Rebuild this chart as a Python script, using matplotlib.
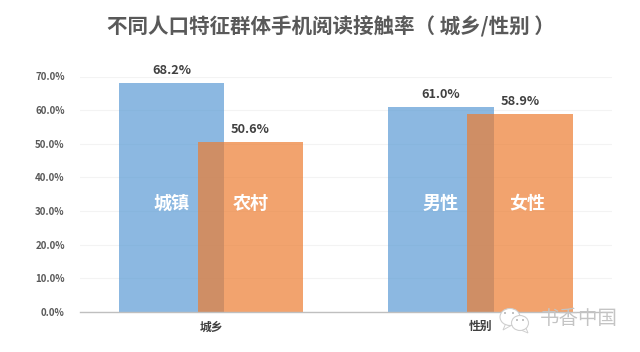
import matplotlib
matplotlib.use('Agg')
import matplotlib.pyplot as plt
from matplotlib.patches import Ellipse, Polygon

plt.rcParams['font.family'] = ['Noto Sans CJK SC', 'DejaVu Sans']

title = '不同人口特征群体手机阅读接触率（ 城乡/性别 ）'
groups = ['城乡', '性别']
left_names = ['城镇', '男性']
right_names = ['农村', '女性']
left_values = [68.2, 61.0]
right_values = [50.6, 58.9]
y_ticks = [0, 10, 20, 30, 40, 50, 60, 70]

W, H = 640, 352
bar_w = 0.39
offset = 0.1465
name_y = 32.2
label_gap = 1.6
right_name_shift = [0, 0.026]

fig = plt.figure(figsize=(W / 100, H / 100), dpi=100, facecolor='white')
# axes box in pixels: left 80, right 612, top 76.5, bottom 312
ax = fig.add_axes([80 / W, 1 - 312 / H, 532 / W, 235.5 / H])

x = list(range(len(groups)))
ax.bar([i - offset for i in x], left_values, bar_w, color='#5B9BD5', alpha=0.7, linewidth=0, zorder=2)
ax.bar([i + offset for i in x], right_values, bar_w, color='#ED7D31', alpha=0.7, linewidth=0, zorder=3)

for i in x:
    ax.text(i - offset, left_values[i] + label_gap, f'{left_values[i]:.1f}%', ha='center', va='bottom',
            fontsize=9.2, fontweight='bold', color='#404040', zorder=5)
    ax.text(i + offset, right_values[i] + label_gap, f'{right_values[i]:.1f}%', ha='center', va='bottom',
            fontsize=9.2, fontweight='bold', color='#404040', zorder=5)
    ax.text(i - offset, name_y, left_names[i], ha='center', va='center',
            fontsize=13, fontweight='bold', color='white', zorder=5)
    ax.text(i + offset + right_name_shift[i], name_y, right_names[i], ha='center', va='center',
            fontsize=13, fontweight='bold', color='white', zorder=5)

ax.set_xlim(-0.486, 1.488)
ax.set_ylim(0, 70)
ax.set_xticks(x)
ax.set_xticklabels(groups, fontsize=8.5, fontweight='bold', color='#404040')
ax.set_yticks(y_ticks)
ax.set_yticklabels([f'{v:.1f}%' for v in y_ticks], fontsize=7, fontweight='bold', color='#595959')
ax.tick_params(axis='both', length=0)
ax.tick_params(axis='x', pad=6)
ax.tick_params(axis='y', pad=11)
ax.grid(axis='y', color='#f3f3f3', linewidth=0.8, zorder=0)
ax.set_axisbelow(True)
for s in ['top', 'right', 'left']:
    ax.spines[s].set_visible(False)
ax.spines['bottom'].set_color('#bfbfbf')
ax.spines['bottom'].set_linewidth(1)
ax.spines['bottom'].set_zorder(4)

fig.text(331 / W, 1 - 27 / H, title, ha='center', va='center', fontsize=14.8,
         fontweight='bold', color='#595959')

# watermark
overlay = fig.add_axes([0, 0, 1, 1], facecolor='none')
overlay.set_xlim(0, W)
overlay.set_ylim(H, 0)
overlay.axis('off')
wm = '#cfcfcf'
overlay.add_patch(Polygon([(506, 323), (503, 330), (512, 325)], facecolor='white', edgecolor=wm, linewidth=0.7))
overlay.add_patch(Ellipse((510, 317), 20, 17, facecolor='white', edgecolor=wm, linewidth=0.8))
overlay.add_patch(Polygon([(526, 328), (528, 333), (521, 330)], facecolor='white', edgecolor=wm, linewidth=0.7))
overlay.add_patch(Ellipse((520, 323), 17, 15, facecolor='white', edgecolor=wm, linewidth=0.8))
for ex, ey in [(505, 313), (513, 313), (517, 320), (523, 320)]:
    overlay.add_patch(Ellipse((ex, ey), 2, 2, facecolor='#b5b5b5', edgecolor='none'))
overlay.text(579, 319, '书香中国', ha='center', va='center', fontsize=14, fontweight='light', color='#c4c4c4')

fig.savefig('out.png', dpi=100, facecolor='white')
